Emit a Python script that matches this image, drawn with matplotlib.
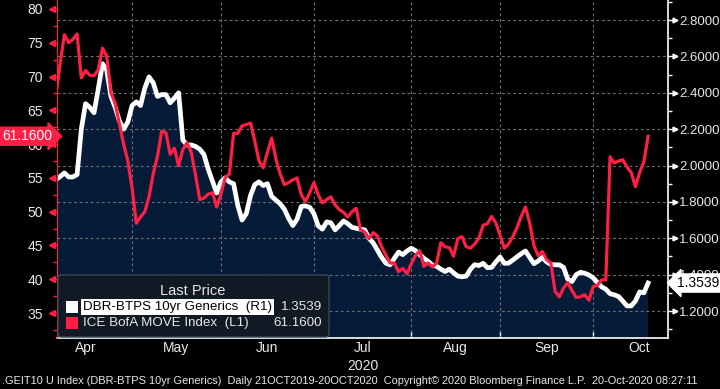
import matplotlib
matplotlib.use("Agg")
import matplotlib.pyplot as plt
import matplotlib.transforms as mtransforms
from matplotlib.patches import FancyBboxPatch, Rectangle
from matplotlib.ticker import MultipleLocator, FixedLocator, NullFormatter
import numpy as np
import pandas as pd

plt.rcParams['font.family'] = ['Liberation Sans', 'DejaVu Sans']

# business days shown on the chart
dates = pd.bdate_range('2020-04-07', '2020-10-20')

# ICE BofA MOVE Index (left axis)
move = [67.1, 72.0, 76.2, 75.0, 75.5, 76.3, 69.8, 70.9, 70.2, 70.1,
        71.0, 74.2, 73.0, 67.6, 66.0, 63.0, 60.0, 57.5, 53.5, 48.3,
        49.2, 50.0, 52.2, 55.6, 58.2, 61.9, 61.7, 58.5, 59.4, 56.8,
        59.2, 60.2, 58.8, 55.4, 51.8, 52.0, 52.6, 52.8, 50.7, 52.6,
        55.0, 55.6, 61.6, 61.6, 62.7, 62.9, 63.1, 60.5, 57.5, 56.5,
        58.8, 60.9, 57.8, 55.6, 54.0, 54.3, 54.7, 55.0, 52.5, 51.5,
        52.8, 54.3, 52.5, 51.3, 51.8, 52.2, 51.0, 50.3, 49.9, 49.2,
        50.0, 50.5, 47.3, 47.0, 46.0, 46.9, 46.4, 44.8, 43.6, 42.4,
        42.4, 41.1, 41.6, 40.8, 42.3, 43.5, 44.2, 41.9, 42.4, 41.8,
        42.4, 45.4, 44.8, 44.7, 43.4, 46.0, 46.3, 44.8, 44.6, 45.2,
        46.1, 48.0, 48.2, 49.3, 48.3, 46.5, 44.6, 45.2, 46.3, 47.6,
        49.3, 50.7, 48.3, 45.0, 43.5, 44.1, 42.9, 42.4, 38.2, 37.4,
        38.7, 39.5, 38.3, 37.3, 37.4, 37.7, 36.9, 38.9, 39.1, 39.9,
        39.9, 58.1, 57.2, 57.5, 57.7, 56.6, 55.8, 53.7, 55.8, 57.4,
        61.16]

# DBR-BTPS 10yr Generics (right axis)
spread = [1.921, 1.94, 1.959, 1.937, 1.937, 1.95, 2.20, 2.34, 2.32, 2.29,
          2.42, 2.56, 2.525, 2.38, 2.32, 2.245, 2.20, 2.24, 2.33, 2.35,
          2.33, 2.425, 2.487, 2.455, 2.38, 2.39, 2.39, 2.345, 2.37, 2.40,
          2.14, 2.113, 2.113, 2.105, 2.09, 2.06, 1.98, 1.915, 1.849, 1.91,
          1.932, 1.91, 1.90, 1.78, 1.70, 1.735, 1.835, 1.895, 1.91, 1.89,
          1.90, 1.83, 1.81, 1.79, 1.76, 1.71, 1.67, 1.705, 1.775, 1.778,
          1.77, 1.735, 1.668, 1.65, 1.69, 1.685, 1.646, 1.67, 1.695, 1.68,
          1.66, 1.655, 1.65, 1.646, 1.60, 1.575, 1.535, 1.495, 1.463, 1.454,
          1.49, 1.524, 1.51, 1.53, 1.545, 1.532, 1.51, 1.49, 1.473, 1.452,
          1.446, 1.43, 1.417, 1.43, 1.41, 1.392, 1.388, 1.392, 1.43, 1.455,
          1.45, 1.462, 1.438, 1.44, 1.47, 1.497, 1.462, 1.463, 1.48, 1.498,
          1.515, 1.53, 1.495, 1.46, 1.475, 1.495, 1.47, 1.456, 1.454, 1.454,
          1.44, 1.375, 1.362, 1.40, 1.413, 1.408, 1.398, 1.383, 1.357, 1.333,
          1.32, 1.295, 1.289, 1.28, 1.255, 1.228, 1.228, 1.255, 1.305, 1.30,
          1.3539]

month_names = ['Apr', 'May', 'Jun', 'Jul', 'Aug', 'Sep', 'Oct']
month_starts = ['2020-04-01', '2020-05-01', '2020-06-01', '2020-07-01',
                '2020-08-01', '2020-09-01', '2020-10-01', '2020-11-02']

RED = '#ff1f44'
NAVY = '#051b38'
TXT = '#e8e8e8'
GRID = '#707070'

origin = '2020-04-01'
x = np.busday_count(origin, dates.values.astype('datetime64[D]'))
mpos = np.busday_count(origin, np.array(month_starts, dtype='datetime64[D]'))

W, H = 720, 389
fig = plt.figure(figsize=(W / 100, H / 100), dpi=100, facecolor='black')


def fx(px):
    return px / W


def fy(py):
    return 1 - py / H


ax2 = fig.add_axes([fx(57), fy(338), fx(668) - fx(57), 338 / H])
ax = ax2.twinx()
ax.set_zorder(ax2.get_zorder() + 1)
ax.patch.set_visible(False)
ax2.set_facecolor('black')

# right axis: spread with filled area
ax2.fill_between(x, spread, 0, color=NAVY, lw=0, zorder=1)
ax2.plot(x, spread, color='white', lw=3.4, zorder=3, solid_joinstyle='round')
ax2.set_ylim(1.0516, 2.91)
ax2.set_xlim(4.25, 148.7)

# grid (drawn above the fill)
for yv in np.arange(1.2, 2.81, 0.2):
    ax2.axhline(yv, color=GRID, lw=0.8, ls=(0, (2.5, 2.5)), zorder=2)
for m in mpos[1:-1]:
    ax2.axvline(m, color=GRID, lw=0.8, ls=(0, (2.5, 2.5)), zorder=2)

# left axis: MOVE index
ax.plot(x, move, color=RED, lw=2.3, zorder=4, solid_joinstyle='round')
ax.set_ylim(31.3, 81.33)

# spines
for a in (ax, ax2):
    a.spines['top'].set_visible(False)
ax.yaxis.tick_left()
ax.yaxis.set_label_position('left')
ax2.yaxis.tick_right()
ax.spines['left'].set_visible(True)
ax.spines['left'].set_color(RED)
ax.spines['right'].set_visible(False)
ax.spines['bottom'].set_visible(False)
ax2.spines['left'].set_visible(False)
ax2.spines['right'].set_color('white')
ax2.spines['bottom'].set_color('white')
ax2.spines['right'].set_linewidth(1.2)
ax2.spines['bottom'].set_linewidth(1.2)

# left ticks
ax.set_yticks(np.arange(35, 81, 5))
ax.set_yticklabels([str(v) for v in range(35, 81, 5)])
ax.yaxis.set_minor_locator(MultipleLocator(2.5))
ax.tick_params(axis='y', which='major', colors=RED, labelcolor=TXT,
               length=5, width=1, labelsize=10, pad=5)
ax.tick_params(axis='y', which='minor', colors=RED, length=3, width=1)
trL = mtransforms.blended_transform_factory(ax.transAxes, ax.transData)
ax.plot([-0.009] * 10, np.arange(35, 81, 5), ls='none', marker='<', ms=4.5,
        color=RED, transform=trL, clip_on=False)

# right ticks
ax2.set_yticks(np.arange(1.2, 2.81, 0.2))
ax2.set_yticklabels(['%.4f' % v for v in np.arange(1.2, 2.81, 0.2)])
ax2.yaxis.set_minor_locator(MultipleLocator(0.1))
ax2.tick_params(axis='y', which='major', colors='white', labelcolor=TXT,
                length=6, width=1, labelsize=9.5, pad=2)
ax2.tick_params(axis='y', which='minor', colors='white', length=3, width=1)
trR = mtransforms.blended_transform_factory(ax2.transAxes, ax2.transData)
ax2.plot([1.011] * 9, np.arange(1.2, 2.81, 0.2), ls='none', marker='>',
         ms=3.5, color='white', transform=trR, clip_on=False)

# x axis: month boundaries as ticks, month names centred
ax2.xaxis.set_major_locator(FixedLocator(mpos[1:-1]))
ax2.xaxis.set_major_formatter(NullFormatter())
ax2.xaxis.set_minor_locator(FixedLocator((mpos[:-1] + mpos[1:]) / 2))
ax2.set_xticklabels(month_names, minor=True)
ax2.tick_params(axis='x', which='major', direction='in', colors='white',
                length=5, width=1)
ax2.tick_params(axis='x', which='minor', length=0, labelcolor=TXT,
                labelsize=10, pad=2)
ax.tick_params(axis='x', which='both', length=0, labelbottom=False)
jul = (mpos[3] + mpos[4]) / 2
trX = mtransforms.blended_transform_factory(ax2.transData, fig.transFigure)
ax2.text(jul, fy(366), '2020', transform=trX, ha='center', va='center',
         color=TXT, fontsize=10)

# last value tags
trTL = mtransforms.blended_transform_factory(fig.transFigure, ax.transData)
fig.text(fx(52), move[-1], '%.4f' % move[-1], transform=trTL, ha='right',
         va='center', color='white', fontsize=10, zorder=20,
         bbox=dict(boxstyle='rarrow,pad=0.15', fc=RED, ec=RED))
trTR = mtransforms.blended_transform_factory(fig.transFigure, ax2.transData)
fig.text(fx(677), spread[-1], '%.4f' % spread[-1], transform=trTR, ha='left',
         va='center', color='black', fontsize=10, zorder=20,
         bbox=dict(boxstyle='larrow,pad=0.15', fc='white', ec='white'))

# legend panel
lg = FancyBboxPatch((fx(58), fy(337)), fx(329) - fx(58), fy(275) - fy(337),
                    boxstyle='round,pad=0,rounding_size=0.006',
                    transform=fig.transFigure, fc='#111a24', ec='#3c4652',
                    lw=1, zorder=10)
fig.patches.append(lg)
fig.text(fx(193), fy(291), 'Last Price', ha='center', va='center',
         color=TXT, fontsize=10.5, zorder=11)
fig.patches.append(Rectangle((fx(66), fy(313)), fx(12), 12 / H,
                             transform=fig.transFigure, fc='white', lw=0,
                             zorder=11))
fig.patches.append(Rectangle((fx(66), fy(329)), fx(12), 12 / H,
                             transform=fig.transFigure, fc=RED, lw=0,
                             zorder=11))
fig.text(fx(83), fy(307), 'DBR-BTPS 10yr Generics  (R1)', ha='left',
         va='center', color='black', fontsize=9.6, zorder=12,
         bbox=dict(fc='white', ec='none', pad=1.2))
fig.text(fx(83), fy(323), 'ICE BofA MOVE Index  (L1)', ha='left',
         va='center', color=TXT, fontsize=9.6, zorder=12)
fig.text(fx(322), fy(307), '%.4f' % spread[-1], ha='right', va='center',
         color=TXT, fontsize=9.6, zorder=12)
fig.text(fx(322), fy(323), '%.4f' % move[-1], ha='right', va='center',
         color=TXT, fontsize=9.6, zorder=12)

# footer
fig.text(fx(2), fy(381),
         '.GEIT10 U Index (DBR-BTPS 10yr Generics)  Daily 21OCT2019-20OCT2020  '
         'Copyright\u00a9 2020 Bloomberg Finance L.P.  20-Oct-2020 08:27:11',
         ha='left', va='center', color=TXT, fontsize=7.9)

fig.savefig('out.png', dpi=100, facecolor='black')
